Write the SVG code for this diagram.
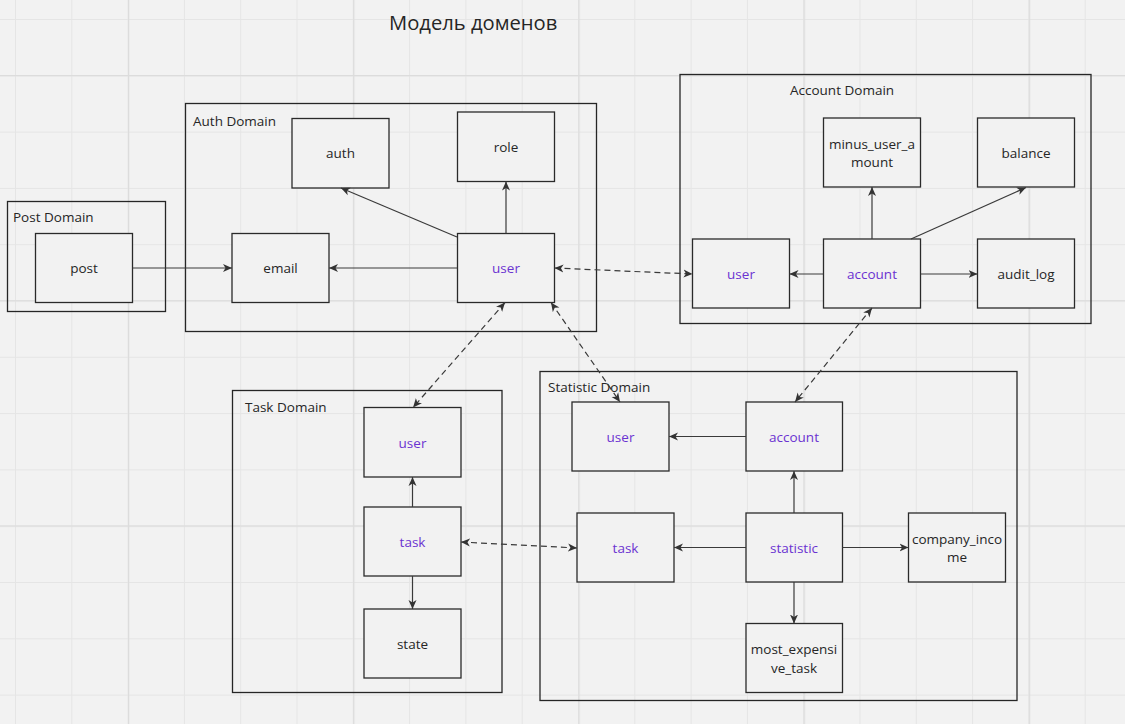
<svg xmlns="http://www.w3.org/2000/svg" width="1125" height="724" viewBox="0 0 1125 724">
<style>
.dom{fill:none;stroke:#262626;stroke-width:1.3}
.nd{fill:#f2f2f2;stroke:#2a2a2a;stroke-width:1.3}
.t{font-family:"Open Sans","Liberation Sans",sans-serif;font-size:13.5px;fill:#262626}
.tc{text-anchor:middle}
.p{fill:#6b33d1}
.ln{fill:none;stroke:#3a3a3a;stroke-width:1.2;marker-end:url(#ah)}
.ds{fill:none;stroke:#3a3a3a;stroke-width:1.2;stroke-dasharray:6 4;marker-start:url(#ah);marker-end:url(#ah)}
</style>
<defs>
<pattern id="g1" patternUnits="userSpaceOnUse" x="15" y="19" width="56.3" height="56.3">
<rect x="0" y="0" width="1" height="56.3" fill="#e5e5e5"/>
<rect x="0" y="0" width="56.3" height="1" fill="#e5e5e5"/>
</pattern>
<pattern id="g2" patternUnits="userSpaceOnUse" x="128" y="75" width="225.2" height="225.2">
<rect x="0" y="0" width="1.3" height="225.2" fill="#dcdcdc"/>
<rect x="0" y="0" width="225.2" height="1.3" fill="#dcdcdc"/>
</pattern>
<marker id="ah" viewBox="0 0 9 9" refX="9" refY="4.5" markerWidth="9" markerHeight="9" markerUnits="userSpaceOnUse" orient="auto-start-reverse">
<path d="M0,0.5 L9,4.5 L0,8.5 L2.5,4.5 z" fill="#333"/>
</marker>
</defs>
<rect width="1125" height="724" fill="#f2f2f2"/>
<rect width="1125" height="724" fill="url(#g1)"/>
<rect width="1125" height="724" fill="url(#g2)"/>
<text x="389" y="30" font-family="'Open Sans','Liberation Sans',sans-serif" font-size="20.2" fill="#262626">Модель доменов</text>

<g id="post-domain">
<rect class="dom" x="7.5" y="201.5" width="158" height="110"/>
<text class="t" x="13" y="222">Post Domain</text>
</g>
<g id="auth-domain">
<rect class="dom" x="185.5" y="103.5" width="411" height="228"/>
<text class="t" x="193" y="126">Auth Domain</text>
</g>
<g id="account-domain">
<rect class="dom" x="680" y="74.5" width="411" height="249"/>
<text class="t" x="790" y="95">Account Domain</text>
</g>
<g id="task-domain">
<rect class="dom" x="232.5" y="390.5" width="269.5" height="302"/>
<text class="t" x="245" y="412">Task Domain</text>
</g>
<g id="statistic-domain">
<rect class="dom" x="540" y="371.5" width="477" height="329"/>
<text class="t" x="548" y="392">Statistic Domain</text>
</g>

<g id="post"><rect class="nd" x="35.5" y="233.5" width="97" height="69"/><text class="t tc" x="84" y="273">post</text></g>
<g id="auth"><rect class="nd" x="292" y="118.5" width="97" height="69.5"/><text class="t tc" x="340.5" y="158">auth</text></g>
<g id="role"><rect class="nd" x="457.5" y="112" width="97" height="69.5"/><text class="t tc" x="506" y="152">role</text></g>
<g id="email"><rect class="nd" x="232" y="233.5" width="97" height="69"/><text class="t tc" x="280.5" y="273">email</text></g>
<g id="auth-user"><rect class="nd" x="457.5" y="233.5" width="97" height="69"/><text class="t tc p" x="506" y="273">user</text></g>

<g id="minus_user_amount"><rect class="nd" x="823.5" y="118" width="97" height="69"/><text class="t tc" x="872" y="149">minus_user_a</text><text class="t tc" x="872" y="167">mount</text></g>
<g id="balance"><rect class="nd" x="977.5" y="118" width="97" height="69"/><text class="t tc" x="1026" y="158">balance</text></g>
<g id="acc-user"><rect class="nd" x="692.5" y="239" width="97" height="69"/><text class="t tc p" x="741" y="279">user</text></g>
<g id="acc-account"><rect class="nd" x="823.5" y="239" width="97" height="69"/><text class="t tc p" x="872" y="279">account</text></g>
<g id="audit_log"><rect class="nd" x="977.5" y="239" width="97" height="69"/><text class="t tc" x="1026" y="279">audit_log</text></g>

<g id="task-user"><rect class="nd" x="364" y="407.5" width="97" height="69.5"/><text class="t tc p" x="412.5" y="448">user</text></g>
<g id="task-task"><rect class="nd" x="364" y="507" width="97" height="69"/><text class="t tc p" x="412.5" y="547">task</text></g>
<g id="state"><rect class="nd" x="364" y="609" width="97" height="69"/><text class="t tc" x="412.5" y="649">state</text></g>

<g id="stat-user"><rect class="nd" x="572" y="402" width="97" height="69"/><text class="t tc p" x="620.5" y="442">user</text></g>
<g id="stat-account"><rect class="nd" x="746" y="402" width="96.5" height="69"/><text class="t tc p" x="794" y="442">account</text></g>
<g id="stat-task"><rect class="nd" x="577" y="513" width="97" height="69"/><text class="t tc p" x="625.5" y="553">task</text></g>
<g id="statistic"><rect class="nd" x="746" y="513" width="96.5" height="69"/><text class="t tc p" x="794" y="553">statistic</text></g>
<g id="company_income"><rect class="nd" x="908.5" y="513" width="97" height="69"/><text class="t tc" x="957" y="544">company_inco</text><text class="t tc" x="957" y="562">me</text></g>
<g id="most_expensive_task"><rect class="nd" x="746" y="623.5" width="96.5" height="69"/><text class="t tc" x="794" y="654">most_expensi</text><text class="t tc" x="794" y="673">ve_task</text></g>

<g id="connectors">
<path class="ln" d="M132.5,268 L232,268"/>
<path class="ln" d="M457.5,268 L329,268"/>
<path class="ln" d="M457,237 L341,188"/>
<path class="ln" d="M506,233.5 L506,181.5"/>
<path class="ds" d="M554.5,268 L692.5,274"/>
<path class="ln" d="M823.5,274 L789.5,274"/>
<path class="ln" d="M872,239 L872,187"/>
<path class="ln" d="M911,239 L1026,187.5"/>
<path class="ln" d="M920.5,274 L977.5,274"/>
<path class="ds" d="M505,302.5 L413,407.5"/>
<path class="ds" d="M551,302.5 L620,402"/>
<path class="ds" d="M872,308 L795,402"/>
<path class="ln" d="M412.5,507 L412.5,477"/>
<path class="ln" d="M412.5,576 L412.5,609"/>
<path class="ds" d="M461,542 L577,548"/>
<path class="ln" d="M746,436.5 L669,436.5"/>
<path class="ln" d="M794,513 L794,471"/>
<path class="ln" d="M746,547.5 L674,547.5"/>
<path class="ln" d="M842.5,547.5 L908.5,547.5"/>
<path class="ln" d="M794,582 L794,623.5"/>
</g>
</svg>
